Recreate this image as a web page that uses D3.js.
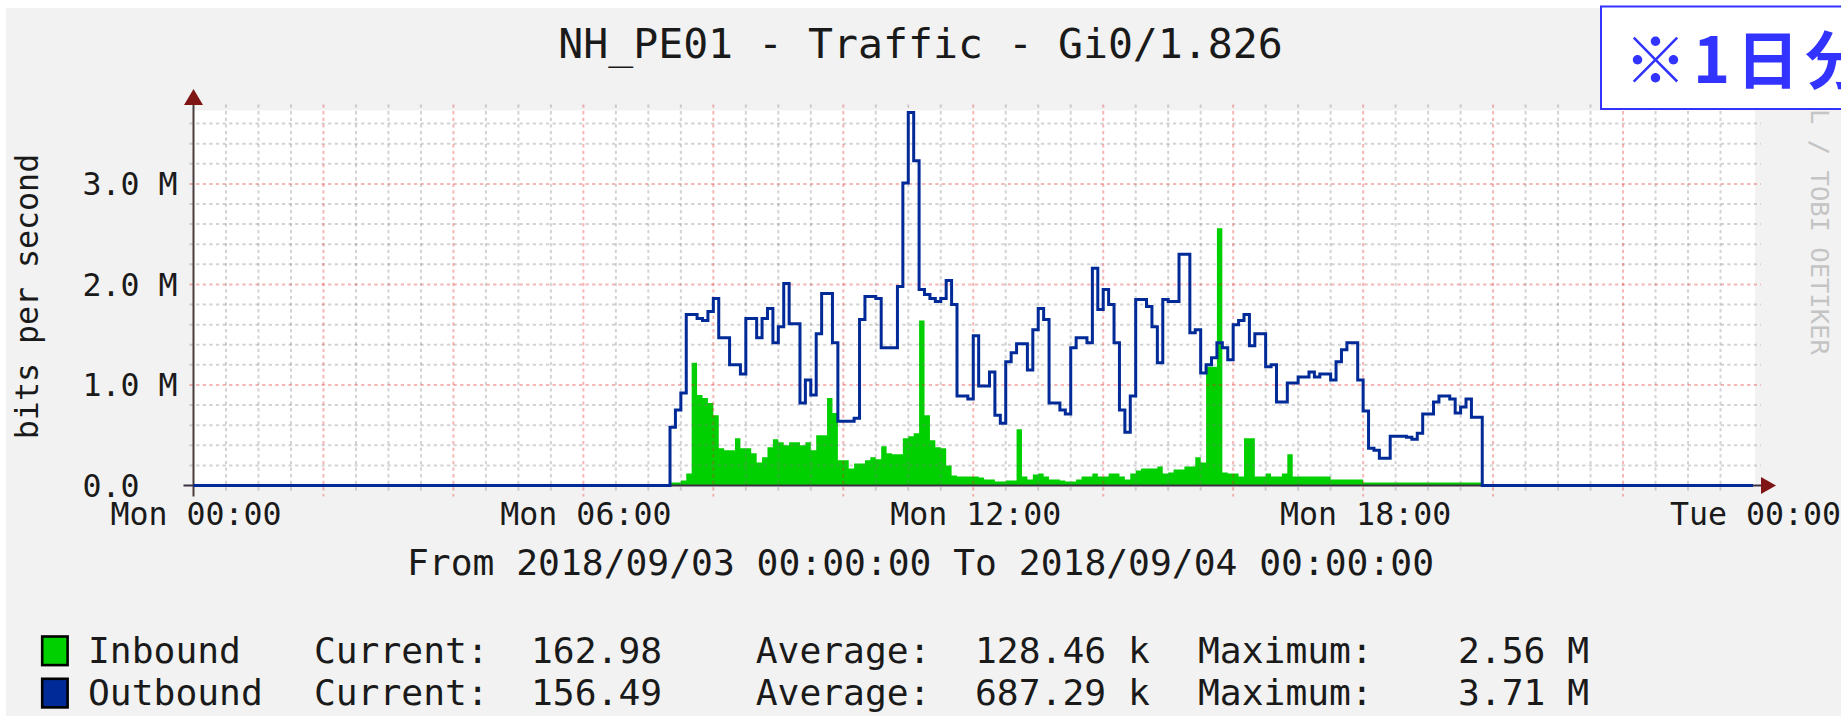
<!DOCTYPE html>
<html><head><meta charset="utf-8">
<script src="https://cdn.jsdelivr.net/npm/d3@7"></script>
<style>
html,body{margin:0;padding:0;background:#fff;}
svg{display:block;}
text{font-family:"DejaVu Sans Mono",monospace;fill:#1a1a1a;}
</style></head><body>
<svg id="chart" width="1841" height="716"></svg>
<script>
// ---------- data ----------
const titleText = "NH_PE01 - Traffic - Gi0/1.826";
const rangeText = "From 2018/09/03 00:00:00 To 2018/09/04 00:00:00";
const yAxisTitle = "bits per second";
const watermarkText = "RRDTOOL / TOBI OETIKER";
const badgeText = "※1日分";
const xTickLabels = ["Mon 00:00", "Mon 06:00", "Mon 12:00", "Mon 18:00", "Tue 00:00"];
const xTickHours = [0, 6, 12, 18, 24];
const yTickValues = [0, 1e6, 2e6, 3e6];
const yTickLabels = ["0.0", "1.0 M", "2.0 M", "3.0 M"];
const seriesNames = ["Inbound", "Outbound"];
const seriesColors = ["#00cf00", "#002a97"];
const currentVals = ["162.98", "156.49"];
const averageVals = ["128.46 k", "687.29 k"];
const maximumVals = ["2.56 M", "3.71 M"];
const dayStart = "2018-09-03T00:00:00Z";
const dayEnd = "2018-09-04T00:00:00Z";
const activeStart = "2018-09-03T07:20:00Z"; // first 5-minute sample with traffic
const stepMinutes = 5;
const idleInboundBps = 162.98;
const idleOutboundBps = 156.49;
// Mbit/s, one value per 5 minutes from 07:20
const inboundM = [
  0.03, 0.03, 0.05, 0.12, 1.22, 0.90, 0.87, 0.82, 0.70, 0.37,
  0.35, 0.35, 0.47, 0.37, 0.37, 0.32, 0.23, 0.28, 0.38, 0.46,
  0.43, 0.40, 0.43, 0.43, 0.40, 0.43, 0.35, 0.50, 0.50, 0.87,
  0.72, 0.25, 0.25, 0.17, 0.22, 0.22, 0.25, 0.28, 0.26, 0.39,
  0.32, 0.31, 0.31, 0.47, 0.49, 0.52, 1.64, 0.70, 0.45, 0.38,
  0.37, 0.20, 0.10, 0.09, 0.09, 0.09, 0.09, 0.08, 0.06, 0.06,
  0.04, 0.04, 0.05, 0.05, 0.56, 0.09, 0.06, 0.11, 0.12, 0.09,
  0.06, 0.06, 0.05, 0.04, 0.04, 0.06, 0.09, 0.09, 0.12, 0.09,
  0.09, 0.12, 0.12, 0.09, 0.06, 0.12, 0.15, 0.17, 0.17, 0.17,
  0.19, 0.12, 0.13, 0.16, 0.16, 0.19, 0.19, 0.28, 0.23, 1.18,
  1.18, 2.56, 0.13, 0.12, 0.12, 0.09, 0.47, 0.47, 0.09, 0.09,
  0.12, 0.09, 0.09, 0.12, 0.31, 0.09, 0.09, 0.09, 0.09, 0.09,
  0.09, 0.09, 0.06, 0.06, 0.06, 0.06, 0.06, 0.06, 0.03, 0.03,
  0.03, 0.03, 0.03, 0.03, 0.03, 0.03, 0.03, 0.03, 0.03, 0.03,
  0.03, 0.03, 0.03, 0.03, 0.03, 0.03, 0.03, 0.03, 0.03, 0.03
];
const outboundM = [
  0.58, 0.75, 0.92, 1.70, 1.70, 1.66, 1.64, 1.73, 1.86, 1.47,
  1.47, 1.20, 1.20, 1.11, 1.66, 1.66, 1.47, 1.66, 1.76, 1.42,
  1.58, 2.01, 1.61, 1.61, 0.82, 1.05, 0.90, 1.51, 1.91, 1.91,
  1.42, 0.64, 0.64, 0.64, 0.67, 1.65, 1.88, 1.88, 1.86, 1.37,
  1.37, 1.37, 1.98, 3.01, 3.71, 3.23, 1.95, 1.90, 1.86, 1.83,
  1.86, 2.04, 1.80, 0.89, 0.89, 0.86, 1.49, 0.99, 0.99, 1.13,
  0.70, 0.62, 1.23, 1.32, 1.41, 1.41, 1.15, 1.55, 1.76, 1.65,
  0.82, 0.82, 0.75, 0.71, 1.37, 1.47, 1.47, 1.42, 2.16, 1.75,
  1.95, 1.80, 1.42, 0.75, 0.53, 0.89, 1.85, 1.85, 1.78, 1.58,
  1.22, 1.85, 1.83, 1.83, 2.30, 2.30, 1.52, 1.55, 1.12, 1.20,
  1.27, 1.42, 1.37, 1.25, 1.60, 1.64, 1.70, 1.39, 1.51, 1.51,
  1.18, 1.20, 0.83, 0.83, 1.02, 1.02, 1.08, 1.08, 1.13, 1.08,
  1.11, 1.11, 1.05, 1.23, 1.35, 1.42, 1.42, 1.05, 0.74, 0.37,
  0.35, 0.27, 0.27, 0.49, 0.49, 0.49, 0.48, 0.46, 0.52, 0.71,
  0.71, 0.83, 0.89, 0.89, 0.86, 0.72, 0.78, 0.86, 0.68, 0.68
];

// ---------- build series ----------
const t0 = new Date(dayStart), t1 = new Date(dayEnd), ta = new Date(activeStart);
function buildSeries(arr, idle) {
  const pts = [{t: t0, v: idle}];
  arr.forEach((m, i) => pts.push({t: d3.utcMinute.offset(ta, i * stepMinutes), v: m * 1e6}));
  pts.push({t: d3.utcMinute.offset(ta, arr.length * stepMinutes), v: idle});
  pts.push({t: t1, v: idle});
  return pts;
}
const inbound = buildSeries(inboundM, idleInboundBps);
const outbound = buildSeries(outboundM, idleOutboundBps);

// ---------- layout ----------
const svg = d3.select("#chart");
const plotL = 193.5, plotR = 1753, plotT = 110.5, plotB = 485.5;
const x = d3.scaleUtc().domain([t0, t1]).range([plotL, plotR]);
const y = d3.scaleLinear().domain([0, 3.73e6]).range([plotB, plotT]);

svg.append("rect").attr("x", 6).attr("y", 8).attr("width", 1841).attr("height", 716).attr("fill", "#f2f2f2");
svg.append("rect").attr("x", plotL).attr("y", plotT).attr("width", plotR + 2 - plotL).attr("height", plotB - plotT).attr("fill", "#ffffff");

// inbound area
svg.append("path").datum(inbound)
  .attr("fill", seriesColors[0])
  .attr("d", d3.area().curve(d3.curveStepAfter).x(d => x(d.t)).y0(y(0)).y1(d => y(d.v)));

// grid
const gGrid = svg.append("g");
const minorY = d3.range(0.2e6, 3.7e6, 0.2e6).filter(v => Math.abs(v / 1e6 - Math.round(v / 1e6)) > 1e-6);
const majorY = [1e6, 2e6, 3e6];
const minorX = d3.utcMinute.every(30).range(d3.utcMinute.offset(t0, 30), t1).filter(d => d.getUTCMinutes() !== 0 || d.getUTCHours() % 2 !== 0);
const majorX = d3.utcHour.every(2).range(d3.utcHour.offset(t0, 2), t1);
const greyGrid = "rgba(120,120,120,0.33)", redGrid = "rgba(225,40,40,0.34)";
gGrid.selectAll(".hy").data(minorY).join("line")
  .attr("x1", plotL - 4).attr("x2", plotR + 8).attr("y1", d => y(d)).attr("y2", d => y(d))
  .attr("stroke", greyGrid).attr("stroke-width", 2).attr("stroke-dasharray", "3.3,3.3");
gGrid.selectAll(".vx").data(minorX).join("line")
  .attr("x1", d => x(d)).attr("x2", d => x(d)).attr("y1", plotT - 6).attr("y2", plotB + 6)
  .attr("stroke", greyGrid).attr("stroke-width", 2).attr("stroke-dasharray", "3.3,3.3");
gGrid.selectAll(".hY").data(majorY).join("line")
  .attr("x1", plotL - 4).attr("x2", plotR + 8).attr("y1", d => y(d)).attr("y2", d => y(d))
  .attr("stroke", redGrid).attr("stroke-width", 2).attr("stroke-dasharray", "3.3,3.3");
gGrid.selectAll(".vX").data(majorX).join("line")
  .attr("x1", d => x(d)).attr("x2", d => x(d)).attr("y1", plotT - 6).attr("y2", plotB + 11)
  .attr("stroke", redGrid).attr("stroke-width", 2).attr("stroke-dasharray", "3.3,3.3");

// axes lines
svg.append("line").attr("x1", plotL - 10).attr("x2", plotR + 8).attr("y1", plotB).attr("y2", plotB)
  .attr("stroke", "#3a3040").attr("stroke-width", 2);
svg.append("line").attr("x1", plotL).attr("x2", plotL).attr("y1", plotB + 11).attr("y2", plotT - 6)
  .attr("stroke", "#4a3c3c").attr("stroke-width", 2);
svg.append("path").attr("fill", "#7f1515")
  .attr("d", `M${plotL - 9.5},${plotT - 5.5}L${plotL + 9.5},${plotT - 5.5}L${plotL},${plotT - 21.5}Z`);
svg.append("path").attr("fill", "#7f1515")
  .attr("d", `M${plotR + 8},${plotB - 8.5}L${plotR + 8},${plotB + 8.5}L${plotR + 23},${plotB}Z`);

// outbound line
svg.append("path").datum(outbound)
  .attr("fill", "none").attr("stroke", seriesColors[1]).attr("stroke-width", 3)
  .attr("d", d3.line().curve(d3.curveStepAfter).x(d => x(d.t)).y(d => y(d.v)));

// y tick labels
const yAx = svg.append("g").attr("transform", `translate(${plotL},0)`)
  .call(d3.axisLeft(y).tickValues(yTickValues).tickFormat((d, i) => yTickLabels[i]).tickSize(0));
yAx.select(".domain").remove();
yAx.selectAll("text").attr("x", 82.5 - plotL).attr("dy", "11px").attr("text-anchor", "start")
  .attr("font-size", "31.6px").attr("font-family", "DejaVu Sans Mono").attr("fill", "#1a1a1a");

// x tick labels
const xAx = svg.append("g").attr("transform", `translate(0,${plotB})`)
  .call(d3.axisBottom(x).tickValues(xTickHours.map(h => d3.utcHour.offset(t0, h)))
    .tickFormat((d, i) => xTickLabels[i]).tickSize(0));
xAx.select(".domain").remove();
xAx.selectAll("text").attr("y", 39.5).attr("dy", 0).attr("dx", 2)
  .attr("font-size", "31.6px").attr("font-family", "DejaVu Sans Mono").attr("fill", "#1a1a1a");

// title & range text
svg.append("text").attr("x", 920.5).attr("y", 58.3).attr("text-anchor", "middle")
  .attr("font-size", "41.5px").text(titleText);
svg.append("text").attr("x", 920.5).attr("y", 575).attr("text-anchor", "middle")
  .attr("font-size", "36.3px").text(rangeText);
svg.append("text").attr("transform", "translate(37.5,296.5) rotate(-90)").attr("text-anchor", "middle")
  .attr("font-size", "31.6px").text(yAxisTitle);

// watermark
svg.append("text").attr("transform", "translate(1810.5,17) rotate(90)")
  .attr("font-size", "25.5px").style("fill", "#c4c4c4").text(watermarkText);

// legend
const legendRows = [662.7, 705];
seriesNames.forEach((name, i) => {
  const by = legendRows[i];
  svg.append("rect").attr("x", 42.2).attr("y", by - 26.2).attr("width", 25.4).attr("height", 28.6)
    .attr("fill", seriesColors[i]).attr("stroke", "#000").attr("stroke-width", 2.6);
  const cols = [[88, name], [313.9, "Current:"], [531, currentVals[i]], [755.7, "Average:"],
                [975, averageVals[i]], [1198, "Maximum:"], [1458, maximumVals[i]]];
  cols.forEach(([cx, s]) => svg.append("text").attr("x", cx).attr("y", by).attr("font-size", "36.3px").text(s));
});

// badge
svg.append("rect").attr("x", 1601).attr("y", 6.5).attr("width", 300).attr("height", 102.5)
  .attr("fill", "#ffffff").attr("stroke", "#3333ff").attr("stroke-width", 2);
svg.append("text").attr("x", 1624).attr("y", 83).attr("font-size", "63px")
  .style("font-family", '"Noto Sans CJK JP", sans-serif').style("font-weight", "bold").style("fill", "#3333ff")
  .style("letter-spacing", "6px")
  .text(badgeText);
</script>
</body></html>
